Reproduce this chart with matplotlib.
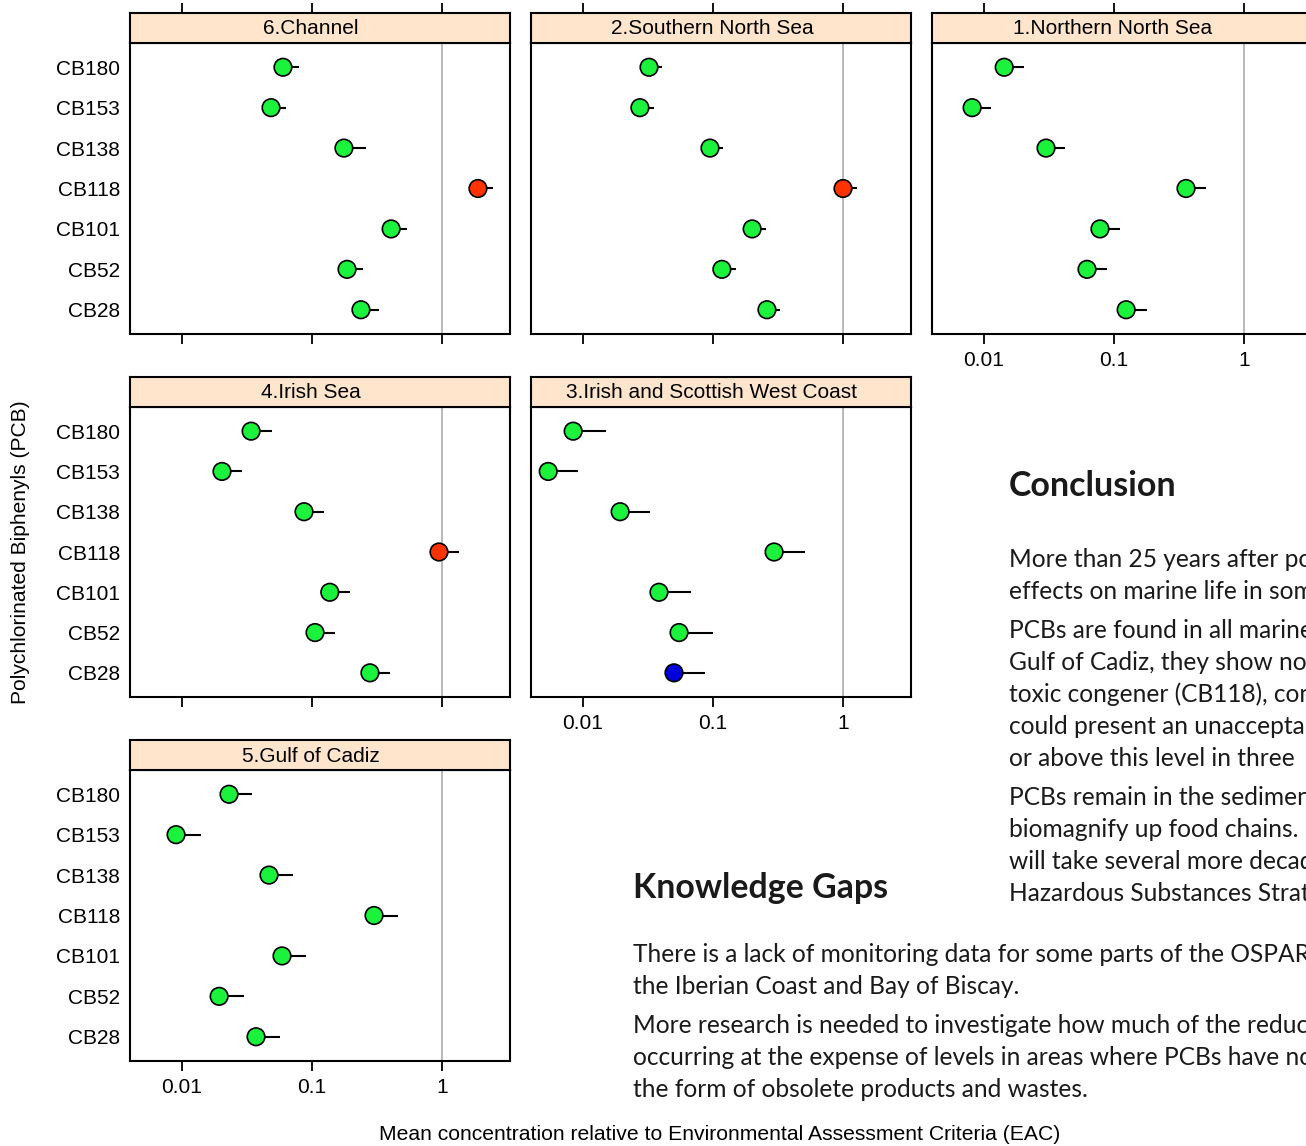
import matplotlib
matplotlib.use('Agg')
import matplotlib.pyplot as plt
from matplotlib import font_manager

W, H = 1306, 1146

congeners = ['CB180', 'CB153', 'CB138', 'CB118', 'CB101', 'CB52', 'CB28']

# mean concentration / EAC and upper confidence limit
channel_mean = [0.0598, 0.0484, 0.176, 1.89, 0.406, 0.186, 0.238]
channel_upper = [0.0794, 0.0631, 0.260, 2.47, 0.538, 0.247, 0.328]
channel_status = ['g', 'g', 'g', 'r', 'g', 'g', 'g']

southern_mean = [0.0322, 0.0274, 0.0948, 1.0, 0.200, 0.117, 0.260]
southern_upper = [0.0405, 0.0352, 0.119, 1.28, 0.256, 0.150, 0.328]
southern_status = ['g', 'g', 'g', 'r', 'g', 'g', 'g']

northern_mean = [0.0143, 0.0081, 0.030, 0.358, 0.078, 0.062, 0.124]
northern_upper = [0.0203, 0.0113, 0.042, 0.51, 0.111, 0.088, 0.179]
northern_status = ['g', 'g', 'g', 'g', 'g', 'g', 'g']

irish_mean = [0.034, 0.0203, 0.0868, 0.948, 0.137, 0.1055, 0.279]
irish_upper = [0.0492, 0.029, 0.124, 1.35, 0.196, 0.150, 0.398]
irish_status = ['g', 'g', 'g', 'r', 'g', 'g', 'g']

west_mean = [0.0084, 0.0054, 0.0193, 0.295, 0.0384, 0.0548, 0.0501]
west_upper = [0.0150, 0.0092, 0.0328, 0.51, 0.0677, 0.100, 0.0868]
west_status = ['g', 'g', 'g', 'g', 'g', 'g', 'b']

cadiz_mean = [0.0230, 0.0090, 0.0467, 0.300, 0.0588, 0.0193, 0.0371]
cadiz_upper = [0.0345, 0.0140, 0.0714, 0.459, 0.090, 0.030, 0.0567]
cadiz_status = ['g', 'g', 'g', 'g', 'g', 'g', 'g']

x_ticks = [0.01, 0.1, 1]
x_ticklabels = ['0.01', '0.1', '1']

# (title, mean, upper, status, row, col)
panels = [
    ('6.Channel', channel_mean, channel_upper, channel_status, 0, 0),
    ('2.Southern North Sea', southern_mean, southern_upper, southern_status, 0, 1),
    ('1.Northern North Sea', northern_mean, northern_upper, northern_status, 0, 2),
    ('4.Irish Sea', irish_mean, irish_upper, irish_status, 1, 0),
    ('3.Irish and Scottish West Coast', west_mean, west_upper, west_status, 1, 1),
    ('5.Gulf of Cadiz', cadiz_mean, cadiz_upper, cadiz_status, 2, 0),
]
labelled = {'1.Northern North Sea', '3.Irish and Scottish West Coast', '5.Gulf of Cadiz'}

colours = {'g': '#1AF23C', 'r': '#FF3300', 'b': '#0000DD'}

conclusion_lines = [
    ['More than 25 years after po', 'effects on marine life in som'],
    ['PCBs are found in all marine', 'Gulf of Cadiz, they show no',
     'toxic congener (CB118), con', 'could present an unaccepta',
     'or above this level in three'],
    ['PCBs remain in the sedimen', 'biomagnify up food chains.',
     'will take several more decad', 'Hazardous Substances Strat'],
]
gaps_lines = [
    ['There is a lack of monitoring data for some parts of the OSPAR',
     'the Iberian Coast and Bay of Biscay.'],
    ['More research is needed to investigate how much of the reduc',
     'occurring at the expense of levels in areas where PCBs have no',
     'the form of obsolete products and wastes.'],
]

plt.rcParams['font.family'] = ['Liberation Sans', 'DejaVu Sans']
names = {f.name for f in font_manager.fontManager.ttflist}
narrow = 'Liberation Sans Narrow' if 'Liberation Sans Narrow' in names else 'Liberation Sans'

fig = plt.figure(figsize=(W / 100, H / 100), dpi=100)
renderer = fig.canvas.get_renderer()


def fx(x):
    return x / W


def fy(y):
    return 1 - y / H


def fit(txt, width):
    bb = txt.get_window_extent(renderer)
    txt.set_fontsize(txt.get_fontsize() * width / bb.width)
    return txt.get_fontsize()


col_left = [130, 531, 932]
panel_w = 380
strip_top = [13, 377, 740]
panel_top = [43, 407, 770]
panel_bottom = [334, 697, 1061]
xlim = (10 ** -2.4, 10 ** 0.523)
ypos = list(range(len(congeners), 0, -1))

for title, mean, upper, status, r, c in panels:
    x0 = col_left[c]
    ax = fig.add_axes([fx(x0), fy(panel_bottom[r]), panel_w / W,
                       (panel_bottom[r] - panel_top[r]) / H])
    ax.set_xscale('log')
    ax.set_xlim(*xlim)
    ax.set_ylim(0.4, 7.6)
    ax.axvline(1, color='#B3B3B3', lw=1.3, zorder=1)
    ax.hlines(ypos, mean, upper, color='black', lw=1.5, zorder=2)
    ax.scatter(mean, ypos, s=160, c=[colours[s] for s in status],
               edgecolors='black', linewidths=1.2, zorder=3, clip_on=False)
    ax.set_xticks(x_ticks)
    ax.minorticks_off()
    ax.tick_params(axis='x', direction='out', length=7, width=1.3, pad=5,
                   labelsize=15)
    if title in labelled:
        ax.set_xticklabels(x_ticklabels)
    else:
        ax.set_xticklabels([])
    ax.set_yticks(ypos)
    if c == 0:
        ax.set_yticklabels(congeners)
    else:
        ax.set_yticklabels([])
    ax.tick_params(axis='y', length=0, pad=7, labelsize=15)
    for sp in ax.spines.values():
        sp.set_linewidth(1.5)

    sax = fig.add_axes([fx(x0), fy(panel_top[r]), panel_w / W,
                        (panel_top[r] - strip_top[r]) / H])
    sax.set_facecolor('#FFE5CC')
    sax.set_xscale('log')
    sax.set_xlim(*xlim)
    sax.set_yticks([])
    sax.minorticks_off()
    if r == 0:
        sax.xaxis.tick_top()
        sax.set_xticks(x_ticks)
        sax.set_xticklabels([])
        sax.tick_params(axis='x', direction='out', length=7, width=1.3)
    else:
        sax.set_xticks([])
    for sp in sax.spines.values():
        sp.set_linewidth(1.5)
    # strip labels sit a little left of the strip centre
    fig.text(fx(x0 + panel_w / 2 - 9), fy((strip_top[r] + panel_top[r]) / 2 + 1),
             title, ha='center', va='center', fontsize=15)

xl = fig.text(fx(720), fy(1140), 'Mean concentration relative to Environmental Assessment Criteria (EAC)',
              ha='center', va='baseline', fontsize=15, family=[narrow, 'DejaVu Sans'])
fit(xl, 683)
yl = fig.text(fx(21), fy(552), 'Polychlorinated Biphenyls (PCB)', rotation=90,
              ha='center', va='center', fontsize=15)
fit_h = yl.get_window_extent(renderer).height
yl.set_fontsize(15 * 305 / fit_h)

body_font = ['Lato', 'DejaVu Sans']
h1 = fig.text(fx(1009), fy(496), 'Conclusion', ha='left', va='baseline',
              fontsize=24, fontweight='bold', family=body_font, color='#1A1A1A')
fit(h1, 168)
h2 = fig.text(fx(633), fy(898), 'Knowledge Gaps', ha='left', va='baseline',
              fontsize=24, fontweight='bold', family=body_font, color='#1A1A1A')
fit(h2, 255)

probe = fig.text(0, 0, 'the form of obsolete products and wastes.', fontsize=16,
                 family=body_font)
body_size = fit(probe, 456)
probe.remove()


def write_block(paragraphs, x, y, size):
    for para in paragraphs:
        for line in para:
            fig.text(fx(x), fy(y), line, ha='left', va='baseline',
                     fontsize=size, family=body_font, color='#1A1A1A')
            y += 32
        y += 7


write_block(conclusion_lines, 1009, 567, body_size)
write_block(gaps_lines, 633, 962, body_size)

fig.savefig('out.png', dpi=100)
